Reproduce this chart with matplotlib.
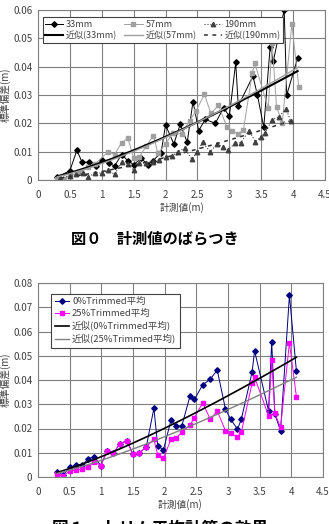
import numpy as np
import matplotlib
matplotlib.use('Agg')
import matplotlib.pyplot as plt

plt.rcParams['font.family'] = ['Noto Sans CJK JP', 'DejaVu Sans']

# --- data: top chart (measurement spread per target size) ---
x33 = [0.30, 0.50, 0.61, 0.69, 0.80, 0.91, 1.00, 1.11, 1.20, 1.31, 1.41, 1.50, 1.62,
       1.72, 1.80, 1.93, 2.00, 2.13, 2.23, 2.34, 2.43, 2.52, 2.62, 2.78, 2.91, 3.00,
       3.10, 3.14, 3.37, 3.44, 3.54, 3.64, 3.69, 3.86, 3.90, 4.07]
y33 = [0.0010, 0.0033, 0.0105, 0.0063, 0.0063, 0.0048, 0.0072, 0.0060, 0.0049, 0.0090,
       0.0068, 0.0054, 0.0077, 0.0053, 0.0067, 0.0097, 0.0194, 0.0127, 0.0197, 0.0133,
       0.0277, 0.0174, 0.0214, 0.0200, 0.0255, 0.0225, 0.0415, 0.0261, 0.0367, 0.0300,
       0.0186, 0.0470, 0.0420, 0.0600, 0.0300, 0.0430]

x57 = [0.30, 0.40, 0.50, 0.68, 0.79, 0.89, 1.10, 1.20, 1.31, 1.41, 1.50, 1.59, 1.70,
       1.81, 1.88, 2.00, 2.11, 2.25, 2.38, 2.48, 2.61, 2.71, 2.83, 2.96, 3.04, 3.14,
       3.22, 3.36, 3.40, 3.61, 3.67, 3.74, 3.83, 3.98, 4.09]
y57 = [0.0004, 0.0003, 0.0015, 0.0030, 0.0045, 0.0055, 0.0100, 0.0090, 0.0132, 0.0147,
       0.0077, 0.0082, 0.0121, 0.0157, 0.0094, 0.0127, 0.0165, 0.0162, 0.0210, 0.0245,
       0.0302, 0.0235, 0.0263, 0.0188, 0.0174, 0.0162, 0.0176, 0.0377, 0.0412, 0.0253,
       0.0485, 0.0259, 0.0202, 0.0551, 0.0327]

x190 = [0.35, 0.50, 0.60, 0.70, 0.79, 0.90, 1.00, 1.10, 1.20, 1.31, 1.41, 1.50, 1.59,
        1.70, 1.80, 1.90, 2.00, 2.10, 2.19, 2.30, 2.41, 2.50, 2.58, 2.70, 2.81, 2.90,
        2.98, 3.09, 3.18, 3.31, 3.41, 3.50, 3.56, 3.67, 3.78, 3.89, 3.96]
y190 = [0.0008, 0.0015, 0.0020, 0.0023, 0.0012, 0.0025, 0.0024, 0.0035, 0.0020, 0.0062,
        0.0058, 0.0035, 0.0060, 0.0061, 0.0065, 0.0071, 0.0082, 0.0085, 0.0100, 0.0112,
        0.0074, 0.0100, 0.0133, 0.0100, 0.0127, 0.0115, 0.0106, 0.0130, 0.0132, 0.0174,
        0.0135, 0.0153, 0.0167, 0.0212, 0.0224, 0.0251, 0.0208]

# --- data: bottom chart (trimmed mean effect) ---
xt = [0.30, 0.40, 0.50, 0.60, 0.70, 0.79, 0.89, 0.99, 1.09, 1.19, 1.29, 1.40, 1.50,
      1.60, 1.71, 1.83, 1.89, 1.98, 2.10, 2.18, 2.27, 2.40, 2.47, 2.60, 2.72, 2.83,
      2.96, 3.04, 3.15, 3.21, 3.38, 3.42, 3.64, 3.69, 3.74, 3.83, 3.97, 4.08]
y_t0 = [0.0019, 0.0009, 0.0040, 0.0049, 0.0048, 0.0075, 0.0084, 0.0047, 0.0107, 0.0098,
        0.0136, 0.0150, 0.0095, 0.0098, 0.0125, 0.0283, 0.0129, 0.0111, 0.0235, 0.0210,
        0.0210, 0.0334, 0.0320, 0.0380, 0.0403, 0.0441, 0.0280, 0.0239, 0.0197, 0.0238,
        0.0432, 0.0520, 0.0273, 0.0558, 0.0259, 0.0191, 0.0750, 0.0437]
y_t25 = [0.0011, 0.0004, 0.0025, 0.0029, 0.0033, 0.0040, 0.0063, 0.0047, 0.0107, 0.0098,
         0.0136, 0.0150, 0.0095, 0.0098, 0.0125, 0.0155, 0.0091, 0.0077, 0.0155, 0.0160,
         0.0184, 0.0214, 0.0245, 0.0306, 0.0238, 0.0272, 0.0191, 0.0180, 0.0164, 0.0184,
         0.0386, 0.0411, 0.0253, 0.0482, 0.0262, 0.0205, 0.0554, 0.0331]

# power trendline coefficients (y = a * x**b)
fit33 = (0.0062, 1.30)
fit57 = (0.0058, 1.37)
fit190 = (0.0030, 1.41)
fit_t0 = (0.0084, 1.26)
fit_t25 = (0.0069, 1.27)

xticks = [0, 0.5, 1, 1.5, 2, 2.5, 3, 3.5, 4, 4.5]
xtick_labels = ['0', '0.5', '1', '1.5', '2', '2.5', '3', '3.5', '4', '4.5']


def trend(x, coef):
    a, b = coef
    xs = np.linspace(min(x), max(x), 100)
    return xs, a * xs ** b


def style_axes(ax, ymax):
    ax.set_xlim(0, 4.5)
    ax.set_ylim(0, ymax)
    ax.set_xticks(xticks)
    ax.set_xticklabels(xtick_labels)
    ax.set_yticks(np.arange(0, ymax + 1e-9, 0.01))
    ax.set_yticklabels(['0'] + ['%.2f' % v for v in np.arange(0.01, ymax + 1e-9, 0.01)])
    ax.grid(True, color='#808080', lw=0.8)
    ax.set_axisbelow(True)
    for s in ax.spines.values():
        s.set_color('#808080')
        s.set_linewidth(0.8)
    ax.tick_params(length=0, labelsize=7, colors='#404040')
    ax.tick_params(axis='x', pad=7)
    ax.tick_params(axis='y', pad=4)
    ax.set_xlabel('計測値(m)', fontsize=7, color='#404040', labelpad=2)
    ax.set_ylabel('標準偏差(m)', fontsize=7, color='#404040', labelpad=2)


fig = plt.figure(figsize=(3.29, 5.24), dpi=100)

# top chart
ax1 = fig.add_axes([38 / 329, 1 - 180 / 524, 287 / 329, 170 / 524])
h33, = ax1.plot(x33, y33, color='black', lw=0.7, marker='D', ms=2.8, label='33mm')
h57, = ax1.plot(x57, y57, color='#a0a0a0', lw=0.7, marker='s', ms=3, label='57mm')
h190, = ax1.plot(x190, y190, color='#404040', lw=0.8, ls=':', marker='^', ms=3.2,
                 label='190mm')
fx, fy = trend(x33, fit33)
f33, = ax1.plot(fx, fy, color='black', lw=1.5, label='近似(33mm)')
fx, fy = trend(x57, fit57)
f57, = ax1.plot(fx, fy, color='#a0a0a0', lw=1.0, label='近似(57mm)')
fx, fy = trend(x190, fit190)
f190, = ax1.plot(fx, fy, color='#303030', lw=1.1, ls=(0, (2.5, 3)), label='近似(190mm)')
style_axes(ax1, 0.06)
hs = [h33, f33, h57, f57, h190, f190]
leg1 = ax1.legend(hs, [h.get_label() for h in hs], loc='upper left', ncol=3,
                  fontsize=6.5, frameon=True, fancybox=False, framealpha=1,
                  edgecolor='#404040', handlelength=2.0, handletextpad=0.3,
                  columnspacing=0.8, borderpad=0.3, labelspacing=0.2,
                  bbox_to_anchor=(0.0, 0.985))
leg1.get_frame().set_linewidth(0.8)
for t in leg1.get_texts():
    t.set_color('#404040')

fig.text(155 / 329, 1 - 238 / 524, '図０　計測値のばらつき', fontsize=11,
         fontweight='bold', ha='center', va='center')

# bottom chart
ax2 = fig.add_axes([38 / 329, 1 - 477 / 524, 285 / 329, 194 / 524])
ax2.plot(xt, y_t0, color='#000080', lw=0.7, marker='D', ms=2.8, label='0%Trimmed平均')
ax2.plot(xt, y_t25, color='#ff00ff', lw=0.7, marker='s', ms=3.5, label='25%Trimmed平均')
fx, fy = trend(xt, fit_t0)
ax2.plot(fx, fy, color='black', lw=1.2, label='近似(0%Trimmed平均)')
fx, fy = trend(xt, fit_t25)
ax2.plot(fx, fy, color='#808080', lw=1.0, label='近似(25%Trimmed平均)')
style_axes(ax2, 0.08)
leg2 = ax2.legend(loc='upper left', fontsize=6.8, frameon=True, fancybox=False,
                  framealpha=1, edgecolor='#404040', handlelength=1.5,
                  handletextpad=0.3, borderpad=0.4, labelspacing=0.3,
                  bbox_to_anchor=(0.03, 0.97))
leg2.get_frame().set_linewidth(0.8)
for t in leg2.get_texts():
    t.set_color('#404040')

fig.text(160 / 329, 1 - 520 / 524, '図１　トリム平均計算の効果', fontsize=12,
         fontweight='bold', ha='center', va='top')

fig.savefig('out.png', dpi=100)
